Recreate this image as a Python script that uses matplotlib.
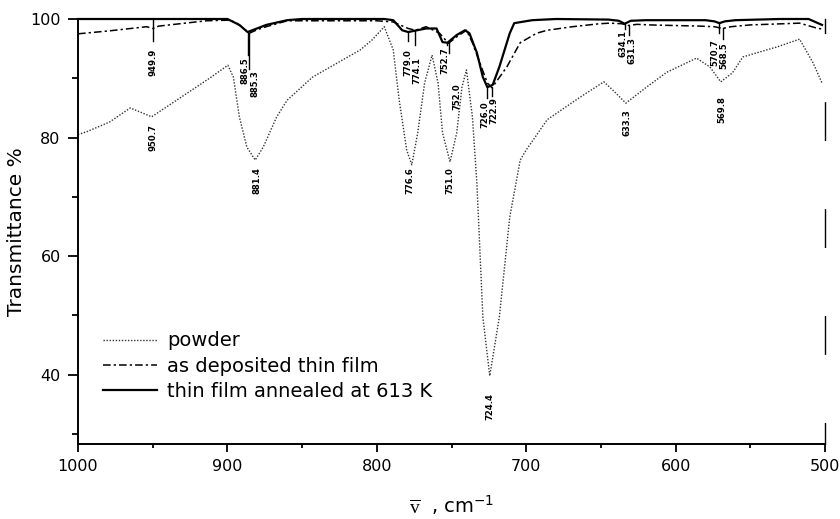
import matplotlib
matplotlib.use("Agg")
import matplotlib.pyplot as plt

plt.rcParams["font.family"] = ["DejaVu Sans"]
plt.rcParams["mathtext.fontset"] = "custom"
plt.rcParams["mathtext.rm"] = "Liberation Serif"
plt.rcParams["mathtext.sf"] = "DejaVu Sans"

# --- IR transmittance spectra (wavenumber in cm^-1, transmittance in %) ---
powder_wn = [1000, 994, 979, 965, 950.7, 934, 912, 899.7, 896, 892, 887, 881.4,
             876, 867, 860, 843, 811, 803, 795, 789, 785, 780, 776.6, 772.6,
             768, 763, 759, 756, 751.0, 746.5, 743, 740, 736, 733, 731, 729,
             724.4, 718, 711, 704, 700, 686, 664, 648, 642, 633.3, 619.5, 606,
             586, 577, 569.8, 562, 555, 532, 517, 508, 502]
powder_t = [80.5, 81.0, 82.6, 85.0, 83.5, 86.3, 90.0, 92.2, 90.2, 83.5, 78.4, 76.2,
            78.4, 83.5, 86.3, 90.2, 94.8, 96.5, 98.7, 94.8, 86.3, 77.9, 75.4, 80.8,
            89.2, 93.9, 89.2, 80.8, 75.9, 80.8, 88.5, 91.4, 83.5, 72.3, 61.0, 49.7,
            39.8, 49.7, 66.6, 76.2, 77.9, 83.0, 86.8, 89.4, 88.0, 85.8, 88.5, 91.0,
            93.4, 91.9, 89.4, 90.9, 93.6, 95.3, 96.6, 92.6, 89.2]

deposited_wn = [1000, 979, 954, 949.9, 946, 914, 900, 895, 891, 885.3, 880, 874,
                860, 800, 789, 779, 774.1, 767, 758, 752.0, 746.5, 740, 736, 731,
                726, 722.9, 713, 704, 693, 686, 669, 651, 644, 636, 631.3, 626,
                617, 584, 574, 568.5, 563, 550, 517, 506, 502]
deposited_t = [97.5, 98.0, 98.7, 98.4, 98.8, 99.7, 99.8, 99.5, 98.8, 97.6, 98.2, 98.7,
               99.7, 99.7, 99.5, 98.4, 98.1, 98.7, 97.6, 95.9, 97.0, 98.1, 96.0, 92.6,
               89.2, 88.4, 91.9, 96.0, 97.6, 98.1, 98.7, 99.2, 99.3, 99.2, 98.9, 99.1,
               99.0, 98.8, 98.7, 98.4, 98.7, 99.0, 99.3, 98.5, 98.3]

annealed_wn = [1000, 900, 892, 886.5, 874, 860, 850, 795, 789, 783, 779.0, 767,
               760, 756, 752.7, 746.5, 741, 738, 733, 729, 726.0, 722.4, 718, 711,
               708, 696, 680, 645, 638, 634.1, 630, 620, 580, 574, 570.7, 567,
               560, 530, 511, 502]
annealed_t = [100.0, 100.0, 99.0, 97.8, 99.0, 99.8, 100.0, 100.0, 99.8, 98.1, 97.8, 98.4,
              98.4, 96.1, 96.0, 97.3, 98.1, 97.6, 94.3, 90.2, 88.5, 88.9, 91.9, 97.6,
              99.3, 99.8, 100.0, 99.9, 99.7, 99.2, 99.7, 99.8, 99.8, 99.6, 99.3, 99.6,
              99.8, 100.0, 100.0, 99.0]

# peak labels: value, text x, text top (data units)
powder_peaks = ["950.7", "881.4", "776.6", "751.0", "724.4", "633.3", "569.8"]
powder_text_x = [949.8, 880.3, 778.0, 751.0, 724.4, 632.8, 569.0]
powder_text_top = [82.3, 75.0, 75.0, 75.0, 36.9, 84.8, 87.0]

film_peaks = ["949.9", "886.5", "885.3", "779.0", "774.1", "752.7", "752.0",
              "726.0", "722.9", "634.1", "631.3", "570.7", "568.5"]
film_text_x = [949.8, 888.0, 881.8, 779.3, 773.2, 754.5, 746.5,
               727.6, 721.8, 635.5, 629.4, 574.0, 568.0]
film_text_top = [95.0, 93.6, 91.4, 94.9, 93.6, 95.3, 89.2,
                 86.2, 86.8, 98.1, 97.0, 96.5, 96.1]
# leader ticks under the film peaks: (start, end) in transmittance
film_lead_from = [100.0, 97.8, 97.6, 97.8, 98.1, 96.0, 95.9,
                  88.5, 88.4, 99.2, 98.9, 99.3, 98.4]
film_lead_to = [96.3, 93.9, 91.6, 96.3, 95.6, 95.6, 94.2,
                86.6, 87.0, 98.3, 97.3, 97.6, 96.6]

fig = plt.figure(figsize=(8.4, 5.19), dpi=100)
ax = fig.add_axes([78 / 840, 1 - 444 / 519, 747 / 840, 425 / 519])

ax.plot(powder_wn, powder_t, color="#333333", lw=1.0, ls=(0, (1, 1.2)),
        label="powder")
ax.plot(deposited_wn, deposited_t, color="black", lw=1.1,
        ls=(0, (5, 2, 1.5, 2)), label="as deposited thin film", clip_on=False)
ax.plot(annealed_wn, annealed_t, color="black", lw=1.6,
        label="thin film annealed at 613 K", clip_on=False)

lab_kw = dict(rotation=90, ha="center", va="top", fontsize=6.1,
              fontweight="bold")
for txt, x, y in zip(powder_peaks, powder_text_x, powder_text_top):
    ax.text(x, y, txt, **lab_kw)
for txt, x, y, y0, y1 in zip(film_peaks, film_text_x, film_text_top,
                             film_lead_from, film_lead_to):
    ax.plot([float(txt), float(txt)], [y0, y1], color="black", lw=1.0)
    ax.text(x, y, txt, **lab_kw)

ax.set_xlim(1000, 500)
ax.set_ylim(28.3, 100)
ax.set_xticks([1000, 900, 800, 700, 600, 500])
ax.set_xticks([950, 850, 750, 650, 550], minor=True)
ax.set_yticks([40, 60, 80, 100])
ax.set_yticks([30, 50, 70, 90], minor=True)
ax.tick_params(axis="both", which="major", direction="out", width=1.3,
               labelsize=11.5, pad=5)
ax.tick_params(axis="x", which="major", length=5.5)
ax.tick_params(axis="y", which="major", length=7.5)
ax.tick_params(axis="x", which="minor", length=3, width=1.3)
ax.tick_params(axis="y", which="minor", length=4, width=1.3)

ax.spines["top"].set_visible(False)
ax.spines["left"].set_linewidth(1.4)
ax.spines["bottom"].set_linewidth(1.4)
ax.spines["right"].set_linewidth(1.0)
ax.spines["right"].set_linestyle((12, (27, 50)))

ax.set_ylabel("Transmittance %", fontsize=14.5, labelpad=3)
ax.set_xlabel(r"$\overline{\mathrm{v}}$  , cm$^{\mathsf{-1}}$", fontsize=14,
              labelpad=14)

ax.legend(loc="upper left", bbox_to_anchor=(0.0335, 0.265), frameon=False,
          fontsize=14, handlelength=2.8, handletextpad=0.5, labelspacing=0.32,
          borderpad=0, borderaxespad=0)

fig.savefig("out.png", dpi=100)
